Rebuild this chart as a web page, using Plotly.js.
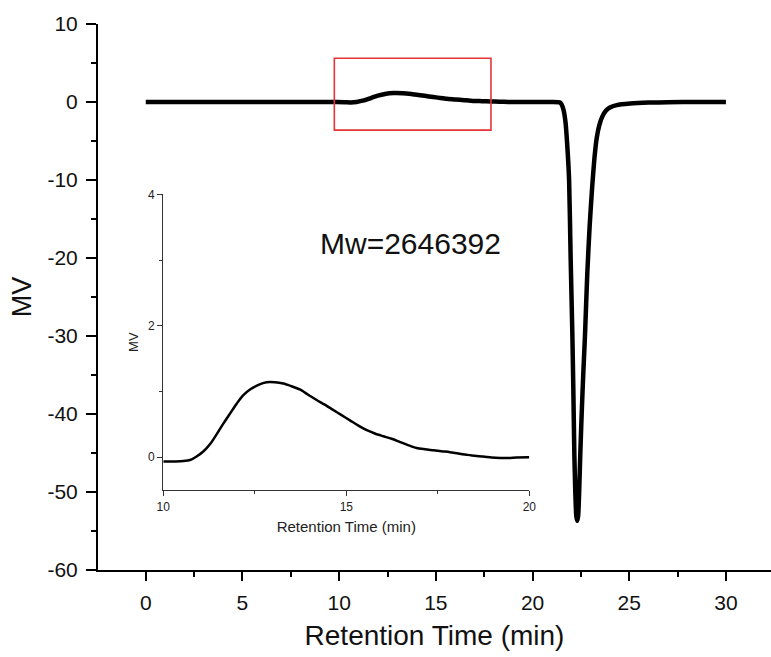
<!DOCTYPE html>
<html><head><meta charset="utf-8">
<script src="https://cdn.plot.ly/plotly-3.0.1.min.js"></script>
<style>html,body{margin:0;padding:0;background:#fff}</style>
</head><body><div id="chart" style="width:771px;height:657px"></div>
<script>
// Main chromatogram (retention time in min, signal in MV)
const mainTime = [0, 2, 4, 6, 8, 9.5, 10.3, 10.6, 10.9, 11.28, 11.64, 12.0, 12.37, 12.82, 13.28, 13.73, 14.19, 14.64, 15.1, 15.56, 16.0, 16.47, 16.92, 17.38, 17.83, 18.29, 18.74, 19.2, 20, 21, 21.4, 21.5, 21.6, 21.7, 21.78, 21.89, 21.97, 22.06, 22.11, 22.16, 22.21, 22.26, 22.31, 22.36, 22.41, 22.47, 22.54, 22.62, 22.71, 22.83, 22.95, 23.08, 23.2, 23.32, 23.45, 23.6, 23.78, 24.0, 24.35, 25.04, 26, 27, 28.5, 30];
const mainSignal = [0, 0, 0, 0, 0, 0, -0.03, -0.05, 0.01, 0.2, 0.51, 0.81, 1.02, 1.14, 1.12, 1.02, 0.87, 0.71, 0.56, 0.41, 0.33, 0.23, 0.14, 0.11, 0.076, 0.036, 0.01, -0.01, 0, 0, -0.05, -0.3, -1.0, -2.5, -5, -10, -20, -30, -37, -45, -50, -53, -53.7, -53, -50, -45, -40, -35, -30, -22, -16, -11, -7.2, -4.6, -3.0, -1.9, -1.15, -0.7, -0.4, -0.2, -0.08, -0.03, 0, 0];

// Inset: zoom of 10-20 min region
const insetTime = [10, 10.3, 10.55, 10.75, 10.91, 11.1, 11.28, 11.46, 11.64, 11.82, 12.0, 12.18, 12.37, 12.6, 12.82, 13.05, 13.28, 13.5, 13.73, 13.96, 14.19, 14.41, 14.64, 14.87, 15.1, 15.33, 15.56, 15.78, 16.0, 16.24, 16.47, 16.7, 16.92, 17.15, 17.38, 17.6, 17.83, 18.06, 18.29, 18.51, 18.74, 18.97, 19.2, 19.42, 19.65, 20];
const insetSignal = [-0.066, -0.065, -0.06, -0.04, 0.01, 0.09, 0.2, 0.35, 0.51, 0.66, 0.81, 0.94, 1.03, 1.1, 1.14, 1.14, 1.12, 1.08, 1.03, 0.95, 0.87, 0.8, 0.72, 0.64, 0.56, 0.48, 0.41, 0.36, 0.32, 0.28, 0.23, 0.18, 0.14, 0.12, 0.105, 0.09, 0.076, 0.055, 0.036, 0.02, 0.01, -0.005, -0.012, -0.012, -0.006, 0];

const mainXTicks = [0, 5, 10, 15, 20, 25, 30];
const mainYTicks = [10, 0, -10, -20, -30, -40, -50, -60];
const insetXTicks = [10, 15, 20];
const insetYTicks = [0, 2, 4];
const xTitle = "Retention Time (min)";
const yTitle = "MV";
const noteText = "Mw=2646392";
const boxTime = [9.75, 17.85];
const boxSignal = [-3.6, 5.6];

const FONT = "Liberation Sans, Arial, Helvetica, sans-serif";

const traces = [
  {x: mainTime, y: mainSignal, type: 'scatter', mode: 'lines',
   line: {color: '#000', width: 4.5, shape: 'spline', smoothing: 0.5},
   xaxis: 'x', yaxis: 'y', hoverinfo: 'skip'},
  {x: insetTime, y: insetSignal, type: 'scatter', mode: 'lines',
   line: {color: '#000', width: 2.5, shape: 'spline', smoothing: 0.8},
   xaxis: 'x2', yaxis: 'y2', hoverinfo: 'skip'}
];

const layout = {
  width: 771, height: 657,
  margin: {l: 98, r: 0, t: 24, b: 87},
  paper_bgcolor: '#fff', plot_bgcolor: 'rgba(0,0,0,0)',
  showlegend: false,
  font: {family: FONT, color: '#111'},
  xaxis: {
    domain: [0, 1], range: [-2.47, 32.33],
    tickvals: mainXTicks, ticktext: mainXTicks.map(String),
    ticks: 'outside', ticklen: 9, tickwidth: 2, tickcolor: '#000',
    minor: {dtick: 2.5, tick0: 0, ticks: 'outside', ticklen: 5, tickwidth: 2, tickcolor: '#000'},
    showline: true, linecolor: '#000', linewidth: 2,
    showgrid: false, zeroline: false,
    tickfont: {size: 21, family: FONT, color: '#111'},
    ticklabelstandoff: 4,
    title: {text: xTitle, font: {size: 28, family: FONT, color: '#111'}, standoff: 12},
    anchor: 'y'
  },
  yaxis: {
    domain: [0, 1], range: [-60, 10],
    tickvals: mainYTicks, ticktext: mainYTicks.map(String),
    ticks: 'outside', ticklen: 10, tickwidth: 2, tickcolor: '#000',
    minor: {dtick: 5, tick0: 0, ticks: 'outside', ticklen: 5, tickwidth: 2, tickcolor: '#000'},
    showline: true, linecolor: '#000', linewidth: 2,
    showgrid: false, zeroline: false,
    tickfont: {size: 21, family: FONT, color: '#111'},
    ticklabelstandoff: 4,
    title: {text: yTitle, font: {size: 27, family: FONT, color: '#111'}, standoff: 8},
    anchor: 'x'
  },
  xaxis2: {
    domain: [0.0970, 0.6409], range: [10, 20],
    tickvals: insetXTicks, ticktext: insetXTicks.map(String),
    ticks: 'outside', ticklen: 5, tickwidth: 1, tickcolor: '#333',
    minor: {dtick: 2.5, tick0: 10, ticks: 'outside', ticklen: 3, tickwidth: 1, tickcolor: '#333'},
    showline: true, linecolor: '#333', linewidth: 1.2,
    showgrid: false, zeroline: false,
    tickfont: {size: 12, family: FONT, color: '#222'},
    title: {text: xTitle, font: {size: 15, family: FONT, color: '#222'}, standoff: 8},
    anchor: 'y2'
  },
  yaxis2: {
    domain: [0.1465, 0.688], range: [-0.5, 4],
    tickvals: insetYTicks, ticktext: insetYTicks.map(String),
    ticks: 'outside', ticklen: 5, tickwidth: 1, tickcolor: '#333',
    minor: {dtick: 1, tick0: 0, ticks: 'outside', ticklen: 3, tickwidth: 1, tickcolor: '#333'},
    showline: true, linecolor: '#333', linewidth: 1.2,
    showgrid: false, zeroline: false,
    tickfont: {size: 12, family: FONT, color: '#222'},
    title: {text: yTitle, font: {size: 13, family: FONT, color: '#222'}, standoff: 6},
    anchor: 'x2'
  },
  shapes: [
    {type: 'rect', xref: 'x', yref: 'y', x0: boxTime[0], x1: boxTime[1], y0: boxSignal[0], y1: boxSignal[1],
     line: {color: 'rgb(228,52,52)', width: 1.6}, fillcolor: 'rgba(0,0,0,0)', layer: 'above'}
  ],
  annotations: [
    {text: noteText, xref: 'x', yref: 'y', x: 13.67, y: -18.1, xanchor: 'center', yanchor: 'middle',
     showarrow: false, font: {size: 30, family: FONT, color: '#111'}}
  ]
};

Plotly.newPlot('chart', traces, layout, {displayModeBar: false, staticPlot: true});
</script>
</body></html>
